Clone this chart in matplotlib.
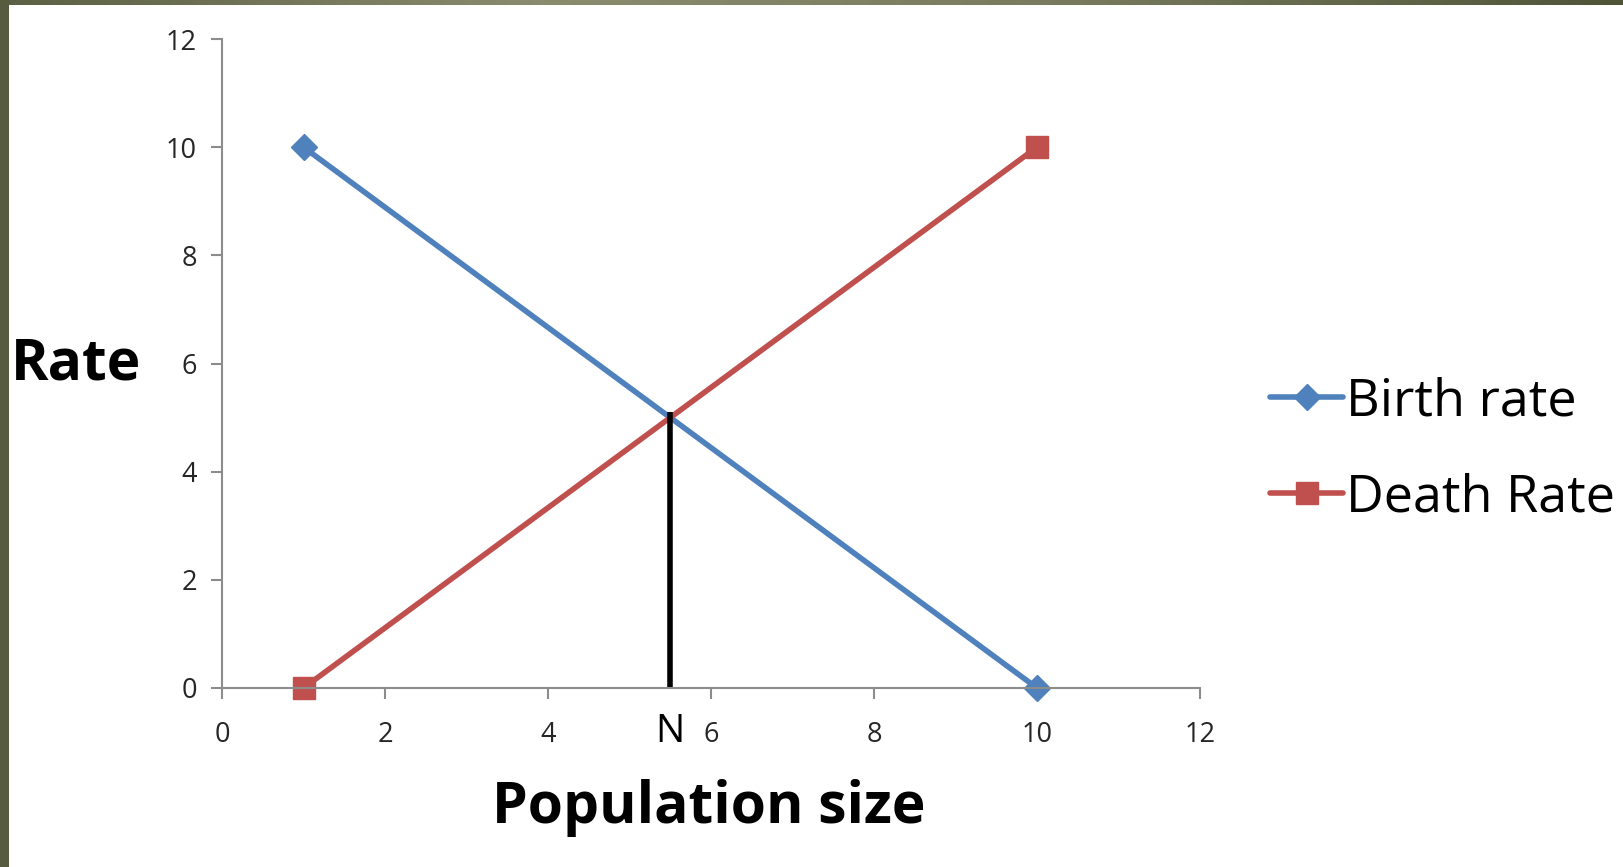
import numpy as np
import matplotlib
matplotlib.use("Agg")
import matplotlib.pyplot as plt

# data
pop_size = [1, 10]
birth_rate = [10, 0]
death_rate = [0, 10]
n_eq = 5.5
n_top = 5.1

W, H = 1623, 867
fig = plt.figure(figsize=(W / 100, H / 100), dpi=100)
fig.patch.set_facecolor("white")
plt.rcParams["font.family"] = ["Open Sans", "DejaVu Sans"]

# olive border strips (top and left)
grad = np.linspace(0, 1, 256)
olive = matplotlib.colors.LinearSegmentedColormap.from_list(
    "olive", ["#5b5f44", "#8a8c6e", "#777a5c", "#4f5439"]
)
top = fig.add_axes([0, 1 - 5 / H, 1, 5 / H])
top.imshow(grad[None, :], aspect="auto", cmap=olive)
top.axis("off")
left = fig.add_axes([0, 0, 9 / W, 1])
left.imshow(np.ones((2, 2)), aspect="auto", cmap=matplotlib.colors.ListedColormap(["#575b40"]))
left.axis("off")

ax = fig.add_axes([222 / W, 1 - 688 / H, (1200 - 222) / W, (688 - 39) / H])
blue = "#4F81BD"
red = "#C0504D"
ax.plot(pop_size, birth_rate, color=blue, lw=4, marker="D", ms=13, label="Birth rate",
        solid_capstyle="round")
ax.plot(pop_size, death_rate, color=red, lw=4, marker="s", ms=16, label="Death Rate",
        solid_capstyle="round")
ax.plot([n_eq, n_eq], [0, n_top], color="black", lw=4, solid_capstyle="butt")

ax.set_xlim(0, 12)
ax.set_ylim(0, 12)
ax.set_xticks(range(0, 13, 2))
ax.set_yticks(range(0, 13, 2))
for s in ["top", "right"]:
    ax.spines[s].set_visible(False)
for s in ["left", "bottom"]:
    ax.spines[s].set_color("#8c8c8c")
    ax.spines[s].set_linewidth(1.5)
ax.tick_params(colors="#8c8c8c", length=8, width=1.5, labelcolor="#262626",
               labelsize=19.5, pad=10)
ax.tick_params(axis="x", pad=16)
for ln in ax.lines:
    ln.set_clip_on(False)

ax.annotate("N", xy=(n_eq, 0), xycoords="data", xytext=(0, -44), textcoords="offset pixels",
            ha="center", va="center", fontsize=28, color="black")

fig.text(76 / W, 1 - 365 / H, "Rate", ha="center", va="center", fontsize=41,
         fontweight="bold")
fig.text(709 / W, 1 - 808 / H, "Population size", ha="center", va="center", fontsize=41,
         fontweight="bold")

leg = ax.legend(loc="center left", bbox_to_anchor=(1244 / W, 1 - 450 / H),
                bbox_transform=fig.transFigure, frameon=False, fontsize=37.5,
                handlelength=1.4, handletextpad=0.05, labelspacing=0.87, borderpad=0)

fig.savefig("out.png", dpi=100)
